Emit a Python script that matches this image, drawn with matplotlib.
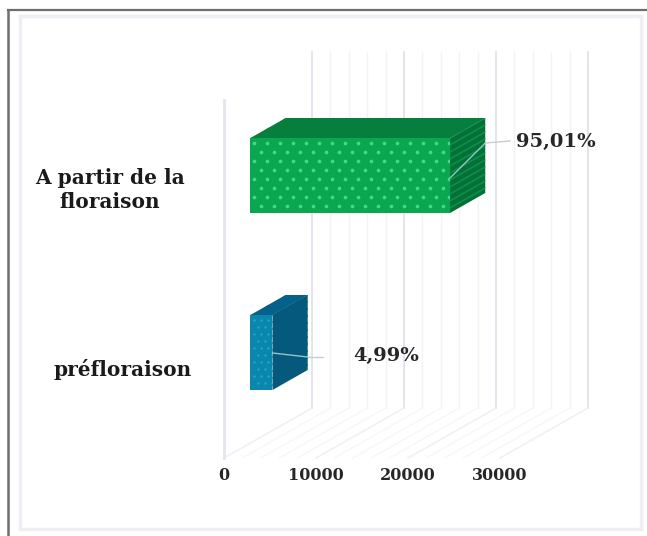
import matplotlib
matplotlib.use("Agg")
import matplotlib.pyplot as plt
from matplotlib.patches import Polygon, Rectangle
import numpy as np

categories = ["préfloraison", "A partir de la\nfloraison"]
values = [2400, 21700]
pct_labels = ["4,99%", "95,01%"]
ticks = [0, 10000, 20000, 30000]
minor_ticks = [2000, 4000, 6000, 8000, 12000, 14000, 16000, 18000, 22000, 24000, 26000, 28000]

# oblique projection of the 3d box, all in pixels
X0, Y_FLOOR = 224, 458
PX_PER_UNIT = 92 / 10000
DEPTH_X, DEPTH_Y = 88, -50
BAR_DEPTH = (0.3, 0.7)
BAR_BOTTOM = [405, 228]
BAR_TOP = [330, 153]

front_colors = ["#0b86ac", "#0aa750"]
side_colors = ["#04597c", "#056f38"]
top_colors = ["#04628a", "#067f3e"]
stripe_colors = ["#04597c", "#0a9048"]
dot_colors = ["#2ba4c4", "#45d888"]


def project(v, d, y):
    # v along the value axis, d from 0 (front) to 1 (back), y in pixels at the front
    return X0 + v * PX_PER_UNIT + d * DEPTH_X, y + d * DEPTH_Y


fig = plt.figure(figsize=(6.47, 5.36), dpi=100)
ax = fig.add_axes([0, 0, 1, 1])
ax.set_xlim(0, 647)
ax.set_ylim(536, 0)
ax.axis("off")

ax.add_patch(Rectangle((20, 16), 621, 513, fc="none", ec="#eeeff4", lw=2.5))
ax.plot([7.5, 7.5], [536, 9.5], color="#6e6e6e", lw=1.8)
ax.plot([7.5, 647], [9.5, 9.5], color="#6e6e6e", lw=1.6)

# back wall, floor and left wall gridlines
WALL_TOP = 52
for t in minor_ticks:
    x, y = project(t, 1, Y_FLOOR)
    ax.plot([x, x], [y, WALL_TOP], color="#f2f3f6", lw=1, zorder=1)
    ax.plot([project(t, 0, Y_FLOOR)[0], x], [Y_FLOOR, y], color="#f6f7f9", lw=1, zorder=1)
for t in ticks:
    x, y = project(t, 1, Y_FLOOR)
    ax.plot([x, x], [y, WALL_TOP], color="#e3e5ee", lw=1.4, zorder=1)
    ax.plot([project(t, 0, Y_FLOOR)[0], x], [Y_FLOOR, y], color="#eef0f5", lw=1.1, zorder=1)
ax.plot([X0, X0], [Y_FLOOR, 100], color="#e3e5ee", lw=2, zorder=1)

for t in ticks:
    ax.text(X0 + t * PX_PER_UNIT, 475, str(t), ha="center", va="center",
            family="DejaVu Serif", weight="bold", fontsize=11.5, color="#262626")

value_pos = [(386, 356), (556, 142)]
leader_y = [(353, 357), (178, 143)]
leader_ends = [(323, 357), (510, 141)]
label_pos = [(192, 369, "right"), (110, 190, "center")]
dot_step = [(7, 7), (13, 9)]
dot_size = [3, 7]

for i, v in enumerate(values):
    d0, d1 = BAR_DEPTH
    b, t = BAR_BOTTOM[i], BAR_TOP[i]
    front = [project(0, d0, b), project(v, d0, b), project(v, d0, t), project(0, d0, t)]
    top = [project(0, d0, t), project(v, d0, t), project(v, d1, t), project(0, d1, t)]
    side = [project(v, d0, b), project(v, d1, b), project(v, d1, t), project(v, d0, t)]
    side_patch = ax.add_patch(Polygon(side, fc=side_colors[i], ec="none", zorder=3))
    top_patch = ax.add_patch(Polygon(top, fc=top_colors[i], ec="none", zorder=3))
    face = ax.add_patch(Polygon(front, fc=front_colors[i], ec="none", zorder=3))

    # stripes running back along the side face, diagonal ones across the top
    for y in np.arange(t, b, 7):
        xa, ya = project(v, d0, y)
        xb, yb = project(v, d1, y)
        line, = ax.plot([xa, xb], [ya, yb], color=stripe_colors[i], lw=1.2, zorder=3.5)
        line.set_clip_path(side_patch)
    for x in np.arange(front[3][0], front[2][0] + 20, 9):
        line, = ax.plot([x, x + 16], [front[3][1], top[3][1]], color=top_colors[i],
                        lw=1, alpha=0.6, zorder=3.5)
        line.set_clip_path(top_patch)

    # dotted fill pattern on the front face
    sx, sy = dot_step[i]
    xs = np.arange(front[0][0] + 4, front[1][0], sx)
    ys = np.arange(front[3][1] + 5, front[0][1], sy)
    gx, gy = np.meshgrid(xs, ys)
    gx = gx + (np.arange(len(ys))[:, None] % 2) * sx / 2
    dots = ax.scatter(gx.ravel(), gy.ravel(), s=dot_size[i], color=dot_colors[i], lw=0, zorder=4)
    dots.set_clip_path(face)

    # leader line from the bar to its percentage
    x_front, x_back = front[1][0], project(v, d1, 0)[0]
    ya, yb = leader_y[i]
    ax.plot([x_front, x_back], [ya, yb], color="#8fc7c0", lw=1, zorder=5)
    ax.plot([x_back, leader_ends[i][0]], [yb, leader_ends[i][1]], color="#c9ccd2", lw=1, zorder=5)

    ax.text(*value_pos[i], pct_labels[i], ha="center", va="center", family="DejaVu Serif",
            weight="bold", fontsize=14, color="#262626")
    lx, ly, lha = label_pos[i]
    ax.text(lx, ly, categories[i], ha=lha, va="center", multialignment="center",
            family="DejaVu Serif", weight="bold", fontsize=14.5, color="#1a1a1a", linespacing=1.3)

fig.savefig("out.png", dpi=100)
